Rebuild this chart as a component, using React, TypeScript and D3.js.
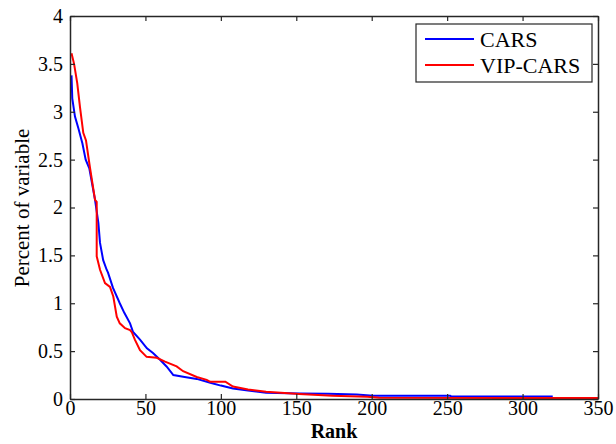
import React, { useEffect, useRef } from 'react';
import * as d3 from 'd3';

// CARS curve (rank, percent)
const carsRank = [1, 1.5, 3.3, 5.5, 8.2, 10.4, 12.8, 16.6, 18.8, 19.9, 22, 24.3, 25.2, 28.5, 33, 36, 39.8, 41.8, 46.4, 51, 55, 59.7, 64, 68.5, 76, 84, 93, 100, 108, 118, 130, 152, 171, 190, 201, 252, 253, 320];
const carsValue = [3.38, 3.14, 2.95, 2.83, 2.67, 2.5, 2.41, 2.08, 1.84, 1.63, 1.45, 1.35, 1.32, 1.16, 1.0, 0.9, 0.79, 0.7, 0.62, 0.53, 0.48, 0.41, 0.34, 0.25, 0.23, 0.21, 0.17, 0.14, 0.11, 0.09, 0.066, 0.058, 0.055, 0.048, 0.035, 0.033, 0.025, 0.025];

// VIP-CARS curve
const vipRank = [1, 2.7, 4.8, 6.6, 8.8, 10.6, 13.3, 16.6, 17.7, 17.7, 19.9, 23.2, 26.5, 28.7, 31, 33, 36.5, 39.8, 40.9, 43, 46.4, 50.8, 57.5, 63, 70.7, 75, 84, 90.6, 93, 103, 108, 118, 130, 152, 174, 197, 205, 350];
const vipValue = [3.61, 3.5, 3.3, 3.05, 2.78, 2.7, 2.41, 2.08, 2.06, 1.49, 1.35, 1.21, 1.17, 1.07, 0.86, 0.79, 0.74, 0.72, 0.7, 0.62, 0.51, 0.44, 0.43, 0.39, 0.34, 0.29, 0.23, 0.2, 0.18, 0.18, 0.13, 0.1, 0.076, 0.052, 0.035, 0.024, 0.012, 0.01];

const xTicks = [0, 50, 100, 150, 200, 250, 300, 350];
const yTicks = [0, 0.5, 1, 1.5, 2, 2.5, 3, 3.5, 4];
const seriesNames = ['CARS', 'VIP-CARS'];
const seriesColors = ['#0000ff', '#ff0000'];

const App = () => {
  const svgRef = useRef<SVGSVGElement>(null);

  useEffect(() => {
    const svg = d3.select(svgRef.current);
    const width = 616;
    const height = 444;
    const margin = { top: 16, right: 18, bottom: 45, left: 70 };
    const font = '"Liberation Serif", "Times New Roman", serif';
    const axisColor = '#262626';

    const x = d3.scaleLinear().domain([0, 350]).range([margin.left, width - margin.right]);
    const y = d3.scaleLinear().domain([0, 4]).range([height - margin.bottom, margin.top]);

    svg.attr('width', width).attr('height', height);
    svg.append('rect').attr('width', width).attr('height', height).attr('fill', '#fff');

    const g = svg.append('g');

    // curves
    const series = [
      carsRank.map((r, i) => [r, carsValue[i]] as [number, number]),
      vipRank.map((r, i) => [r, vipValue[i]] as [number, number]),
    ];
    const line = d3
      .line<[number, number]>()
      .x((d) => x(d[0]))
      .y((d) => y(d[1]));
    series.forEach((s, i) => {
      g.append('path')
        .datum(s)
        .attr('d', line)
        .attr('fill', 'none')
        .attr('stroke', seriesColors[i])
        .attr('stroke-width', 2);
    });

    // axes, ticks inward (box style)
    const tickLen = 5;
    const bottomAxis = d3.axisBottom(x).tickValues(xTicks).tickSizeInner(-tickLen).tickSizeOuter(0).tickPadding(2);
    const leftAxis = d3.axisLeft(y).tickValues(yTicks).tickFormat(d3.format('')).tickSizeInner(-tickLen).tickSizeOuter(0).tickPadding(7);
    const topAxis = d3.axisTop(x).tickValues(xTicks).tickSizeInner(-tickLen).tickSizeOuter(0).tickFormat(() => '');
    const rightAxis = d3.axisRight(y).tickValues(yTicks).tickSizeInner(-tickLen).tickSizeOuter(0).tickFormat(() => '');

    const styleAxis = (sel: any) => {
      sel.attr('font-family', font);
      sel.selectAll('path').attr('stroke', axisColor).attr('stroke-width', 1.5);
      sel.selectAll('line').attr('stroke', axisColor).attr('stroke-width', 1.2);
      sel.selectAll('text').style('font-family', font).attr('font-size', 20).attr('fill', '#000');
    };

    g.append('g').attr('transform', `translate(0,${height - margin.bottom})`).call(bottomAxis).call(styleAxis);
    g.append('g').attr('transform', `translate(${margin.left},0)`).call(leftAxis).call(styleAxis);
    g.append('g').attr('transform', `translate(0,${margin.top})`).call(topAxis).call(styleAxis);
    g.append('g').attr('transform', `translate(${width - margin.right},0)`).call(rightAxis).call(styleAxis);

    // axis labels
    svg.append('text')
      .attr('x', (margin.left + width - margin.right) / 2)
      .attr('y', 438)
      .attr('text-anchor', 'middle')
      .style('font-family', font)
      .attr('font-size', 20)
      .attr('font-weight', 'bold')
      .text('Rank');

    svg.append('text')
      .attr('transform', `translate(29,208) rotate(-90)`)
      .attr('text-anchor', 'middle')
      .style('font-family', font)
      .attr('font-size', 21)
      .text('Percent of variable');

    // legend
    const legend = svg.append('g').attr('transform', 'translate(416,24)');
    legend.append('rect')
      .attr('width', 176)
      .attr('height', 58)
      .attr('fill', '#fff')
      .attr('stroke', axisColor)
      .attr('stroke-width', 1.2);
    seriesNames.forEach((name, i) => {
      const ly = 15 + i * 26;
      legend.append('line')
        .attr('x1', 9).attr('x2', 58)
        .attr('y1', ly).attr('y2', ly)
        .attr('stroke', seriesColors[i])
        .attr('stroke-width', 2);
      legend.append('text')
        .attr('x', 64)
        .attr('y', ly + 7.5)
        .style('font-family', font)
        .attr('font-size', 22)
        .text(name);
    });

    return () => {
      svg.selectAll('*').remove();
    };
  }, []);

  return <svg ref={svgRef} style={{ position: 'absolute', left: 0, top: 0, display: 'block' }}></svg>;
};

export default App;
